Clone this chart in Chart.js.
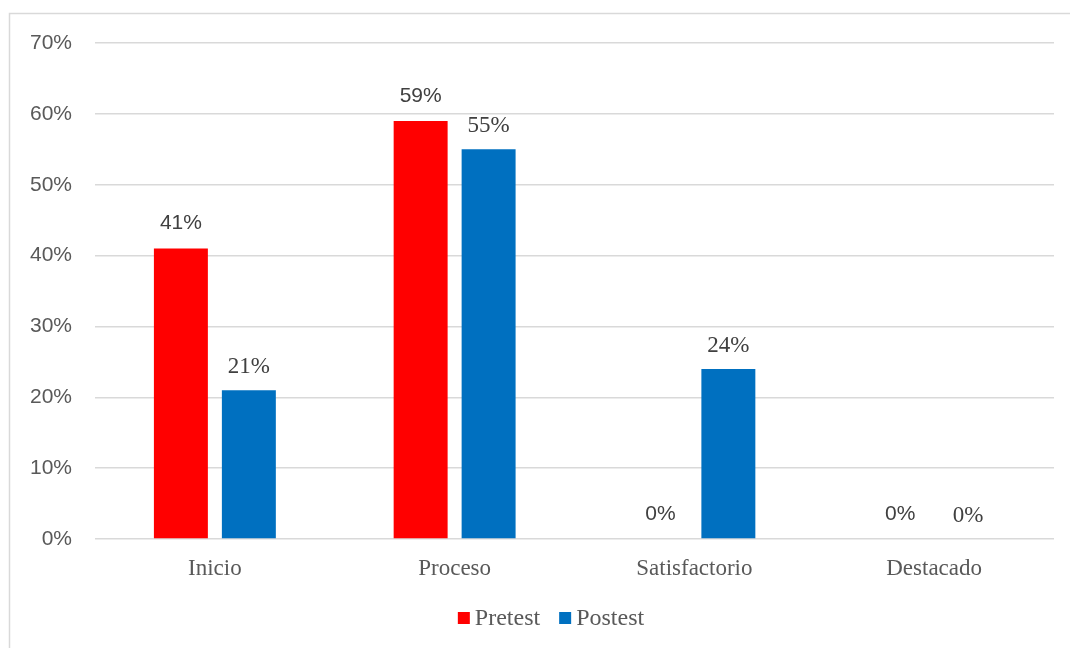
<!DOCTYPE html>
<html>
<head>
<meta charset="utf-8">
<script src="https://cdn.jsdelivr.net/npm/chart.js@4/dist/chart.umd.min.js"></script>
<style>
  html, body { margin: 0; padding: 0; background: #fff; }
  #wrap { position: relative; width: 1070px; height: 648px; }
</style>
</head>
<body>
<div id="wrap"><canvas id="c" width="1070" height="648"></canvas></div>
<script>
const categories = ['Inicio', 'Proceso', 'Satisfactorio', 'Destacado'];
const pretest = [41, 59, 0, 0];
const postest = [21, 55, 24, 0];
const yTicks = [0, 10, 20, 30, 40, 50, 60, 70];

const SANS = '"Liberation Sans", Arial, sans-serif';
const SERIF = '"Liberation Serif", "Times New Roman", serif';

// label styling per series: font and gap between bar top and text baseline
const labelFonts = ['21px ' + SANS, '23px ' + SERIF];
const labelGaps = [19, 17];

// Thin grey frame around the chart
const frame = {
  id: 'frame',
  beforeDraw(chart) {
    const ctx = chart.ctx;
    ctx.save();
    ctx.strokeStyle = '#d9d9d9';
    ctx.lineWidth = 1.5;
    ctx.strokeRect(9.5, 13.5, 1200, 800);
    ctx.restore();
  }
};

// Value labels above each bar
const valueLabels = {
  id: 'valueLabels',
  afterDatasetsDraw(chart) {
    const ctx = chart.ctx;
    ctx.save();
    ctx.textAlign = 'center';
    ctx.textBaseline = 'alphabetic';
    chart.data.datasets.forEach((ds, i) => {
      const meta = chart.getDatasetMeta(i);
      ctx.font = labelFonts[i];
      ctx.fillStyle = '#404040';
      meta.data.forEach((bar, j) => {
        ctx.fillText(ds.data[j] + '%', bar.x, bar.y - labelGaps[i]);
      });
    });
    ctx.restore();
  }
};

// Legend row under the category labels
const bottomLegend = {
  id: 'bottomLegend',
  afterDraw(chart) {
    const ctx = chart.ctx;
    ctx.save();
    ctx.font = '24px ' + SERIF;
    ctx.textBaseline = 'middle';
    ctx.textAlign = 'left';
    const items = chart.data.datasets.map(ds => ({ text: ds.label, color: ds.backgroundColor }));
    const box = 12, gapText = 5, gapItem = 19;
    const widths = items.map(it => box + gapText + ctx.measureText(it.text).width);
    const total = widths.reduce((a, b) => a + b, 0) + gapItem * (items.length - 1);
    let x = 551 - total / 2;
    const yMid = 618;
    items.forEach((it, k) => {
      ctx.fillStyle = it.color;
      ctx.fillRect(x, yMid - 6, box, box);
      ctx.fillStyle = '#595959';
      ctx.fillText(it.text, x + box + gapText, yMid + 1);
      x += widths[k] + gapItem;
    });
    ctx.restore();
  }
};

new Chart(document.getElementById('c'), {
  type: 'bar',
  data: {
    labels: categories,
    datasets: [
      { label: 'Pretest', data: pretest, backgroundColor: '#FF0000' },
      { label: 'Postest', data: postest, backgroundColor: '#0070C0' }
    ]
  },
  options: {
    responsive: false,
    animation: false,
    datasets: { bar: { categoryPercentage: 0.567, barPercentage: 0.794 } },
    layout: { padding: { top: 43, right: 16, left: 0, bottom: 51 } },
    plugins: {
      tooltip: { enabled: false },
      legend: { display: false }
    },
    scales: {
      x: {
        grid: { display: false, drawTicks: false },
        border: { display: false },
        ticks: { font: { family: SERIF, size: 23 }, color: '#595959', padding: 16 },
        afterFit(scale) { scale.height = 58; }
      },
      y: {
        min: 0, max: 70,
        afterBuildTicks(scale) { scale.ticks = yTicks.map(v => ({ value: v })); },
        grid: { color: '#d9d9d9', lineWidth: 1.5, drawTicks: false },
        border: { display: false },
        ticks: {
          font: { family: SANS, size: 21 }, color: '#595959', padding: 23,
          callback: v => v + '%'
        },
        afterFit(scale) { scale.width = 95; }
      }
    }
  },
  plugins: [frame, valueLabels, bottomLegend]
});
</script>
</body>
</html>
